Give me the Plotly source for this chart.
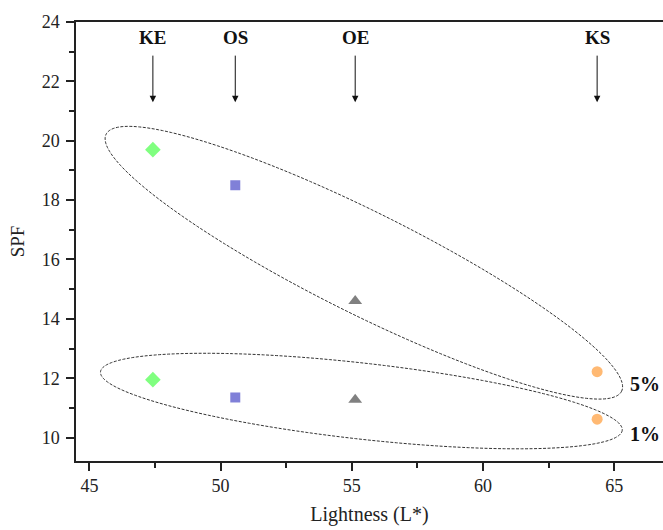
import numpy as np
import plotly.graph_objects as go

# Samples and their lightness (L*) and SPF at the two loadings
samples = ["KE", "OS", "OE", "KS"]
lightness = [47.42, 50.56, 55.13, 64.35]
spf_5pct = [19.70, 18.50, 14.60, 12.22]
spf_1pct = [11.95, 11.35, 11.27, 10.62]

symbols = ["diamond", "square", "triangle-up", "circle"]
colors = ["#80FF80", "#8080D8", "#808080", "#FFB973"]
sizes = [12, 10, 12, 11]

FONT = "Liberation Serif, Times New Roman, serif"
W, H = 663, 530
M = dict(l=76, r=0, t=22, b=69)
XR = [44.49, 66.86]
YR = [9.21, 24.0]

fig = go.Figure()

for name, x, y5, y1, sym, col, sz in zip(samples, lightness, spf_5pct, spf_1pct,
                                         symbols, colors, sizes):
    fig.add_trace(go.Scatter(
        x=[x, x], y=[y5, y1], mode="markers", name=name,
        marker=dict(symbol=sym, color=col, size=sz, line=dict(width=0)),
        showlegend=False,
    ))

# screen scale (px per data unit) used to draw the grouping ellipses
px_x = (W - M["l"] - M["r"]) / (XR[1] - XR[0])
px_y = (H - M["t"] - M["b"]) / (YR[1] - YR[0])


def ellipse_path(cx, cy, a_px, b_px, angle_deg, n=240):
    t = np.linspace(0, 2 * np.pi, n)
    th = np.radians(angle_deg)
    dx = a_px * np.cos(t) * np.cos(th) - b_px * np.sin(t) * np.sin(th)
    dy = a_px * np.cos(t) * np.sin(th) + b_px * np.sin(t) * np.cos(th)
    xs = cx + dx / px_x
    ys = cy - dy / px_y
    pts = [f"{xv:.4f},{yv:.4f}" for xv, yv in zip(xs, ys)]
    return "M " + " L ".join(pts) + " Z"


ell_style = dict(color="#333333", width=1, dash="3px,1.5px")
# 5 % group
fig.add_shape(type="path", xref="x", yref="y",
              path=ellipse_path(55.46, 15.89, 288, 51, 26.5), line=ell_style)
# 1 % group
fig.add_shape(type="path", xref="x", yref="y",
              path=ellipse_path(55.365, 11.23, 262.5, 38.0, 6.4), line=ell_style)

# sample labels with arrows pointing down to each lightness value
for name, x in zip(samples, lightness):
    fig.add_annotation(x=x, y=21.30, xref="x", yref="y", ax=0, ay=-48,
                       showarrow=True, arrowhead=2, arrowsize=1.3, arrowwidth=1,
                       arrowcolor="#111111", text="")
    fig.add_annotation(x=x, y=23.47, xref="x", yref="y", text=f"<b>{name}</b>",
                       showarrow=False, font=dict(family=FONT, size=19, color="#111111"))

fig.add_annotation(x=66.17, y=11.82, xref="x", yref="y", text="<b>5%</b>",
                   showarrow=False, font=dict(family=FONT, size=20, color="#111111"))
fig.add_annotation(x=66.17, y=10.12, xref="x", yref="y", text="<b>1%</b>",
                   showarrow=False, font=dict(family=FONT, size=20, color="#111111"))

axis_common = dict(
    showline=True, linecolor="#222222", linewidth=1.5,
    ticks="outside", ticklen=8, tickwidth=1.5, tickcolor="#222222",
    showgrid=False, zeroline=False,
    tickfont=dict(family=FONT, size=18, color="#222222"),
)

fig.update_xaxes(
    range=XR, dtick=5, tick0=45, mirror=True,
    minor=dict(ticks="outside", ticklen=5, tickwidth=1.5, dtick=2.5, tick0=45,
               tickcolor="#222222"),
    title=dict(text="Lightness (L*)", font=dict(family=FONT, size=20, color="#222222"),
               standoff=12),
    **axis_common,
)
fig.update_yaxes(
    range=YR, dtick=2, tick0=10, ticklabelstandoff=3,
    minor=dict(ticks="outside", ticklen=5, tickwidth=1.5, dtick=1, tick0=10,
               tickcolor="#222222"),
    title=dict(text="SPF", font=dict(family=FONT, size=19, color="#222222"),
               standoff=12),
    **axis_common,
)

fig.update_layout(
    width=W, height=H, margin=M,
    font=dict(family=FONT, color="#222222"),
    paper_bgcolor="white", plot_bgcolor="white",
    showlegend=False,
)

fig.write_html("out.html")
